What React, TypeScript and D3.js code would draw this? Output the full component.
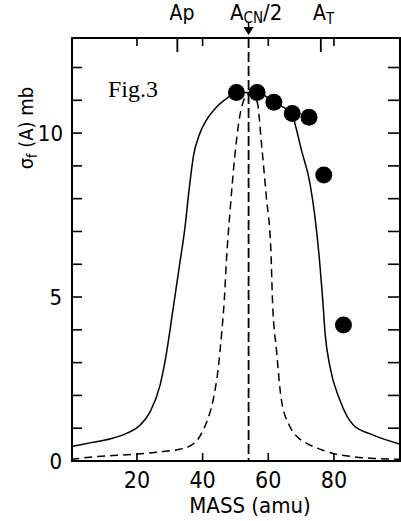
import React from 'react';
import * as d3 from 'd3';

// solid curve: [mass, sigma]
const solidCurve: [number, number][] = [
  [0, 0.44], [6, 0.56], [12, 0.68], [17, 0.85], [21, 1.1], [24, 1.5], [27, 2.3],
  [29, 3.3], [30.8, 4.5], [33, 6.0], [34.6, 7.1], [35.8, 8.2], [37.2, 9.3],
  [39, 9.95], [41.2, 10.4], [44.3, 10.8], [47.8, 11.09], [50.3, 11.24],
  [56.6, 11.24], [61.7, 10.94], [67.3, 10.55], [68.6, 10.1], [70.1, 9.48],
  [72.7, 8.47], [74.2, 7.45], [75.6, 6.13], [76.6, 4.9], [77.3, 3.9],
  [78.8, 2.87], [81.8, 1.86], [85.9, 1.1], [92, 0.79], [100, 0.52],
];

// dashed curve
const dashedCurve: [number, number][] = [
  [0, 0.05], [7, 0.13], [20, 0.21], [27, 0.28], [33, 0.36], [36.2, 0.46],
  [38.5, 0.65], [40.2, 0.95], [42, 1.4], [43.2, 1.86], [44.8, 2.87],
  [45.8, 3.9], [46.6, 4.9], [47.3, 6.2], [48.3, 7.55], [49.8, 9.3],
  [51.9, 10.8], [54, 11.2], [56.6, 10.95], [58, 9.6], [59.4, 8.06],
  [60.8, 6.4], [61.3, 4.85], [62.5, 3.38], [64, 1.86], [66.6, 1.05],
  [69, 0.72], [71.7, 0.54], [76, 0.35], [79.8, 0.23], [86, 0.13],
  [92, 0.08], [100, 0.05],
];

// measured points
const pointMass = [50.3, 56.6, 61.7, 67.3, 72.4, 76.9, 82.9];
const pointSigma = [11.24, 11.24, 10.94, 10.6, 10.48, 8.72, 4.15];

const bottomTicks = [20, 40, 60, 80];
const topTicks = [20, 40, 60, 80];
const yTickLabels = [0, 5, 10];
const yMinorTicks = d3.range(1, 13);

const massAp = 32.3;
const massT = 76;
const massHalf = 54;

const sans = "'Liberation Sans Narrow', 'DejaVu Sans Condensed', 'Liberation Sans', sans-serif";

export default function App() {
  const left = 72, right = 400, top = 38, bottom = 461;
  const x = d3.scaleLinear().domain([0, 100]).range([71.3, 399.6]);
  const y = d3.scaleLinear().domain([0, 12.9]).range([bottom, top]);

  const line = d3.line<[number, number]>()
    .x(d => x(d[0]))
    .y(d => y(d[1]))
    .curve(d3.curveMonotoneX);

  return (
    <svg width={401} height={521} style={{ position: 'absolute', left: 0, top: 0, background: '#fff' }}>
      <rect x={left} y={top} width={right - left} height={bottom - top} fill="none" stroke="#000" strokeWidth={2} />

      {/* left / right ticks */}
      {yMinorTicks.map(v => (
        <g key={v}>
          <line x1={left} x2={left + 10} y1={y(v)} y2={y(v)} stroke="#000" strokeWidth={1.6} />
          <line x1={right} x2={right - 12} y1={y(v)} y2={y(v)} stroke="#000" strokeWidth={1.6} />
        </g>
      ))}
      {yTickLabels.map(v => (
        <text key={v} x={v === 10 ? 63 : 62} y={y(v)} dy="0.36em" textAnchor="end"
          fontFamily={sans} fontSize={22}>{v}</text>
      ))}

      {/* bottom ticks */}
      {bottomTicks.map(v => (
        <g key={v}>
          <line x1={x(v)} x2={x(v)} y1={bottom} y2={bottom - 8} stroke="#000" strokeWidth={1.6} />
          <text x={x(v)} y={488} textAnchor="middle" fontFamily={sans} fontSize={23}>{v}</text>
        </g>
      ))}

      {/* top ticks */}
      {topTicks.map(v => (
        <line key={v} x1={x(v)} x2={x(v)} y1={top} y2={top + 8} stroke="#000" strokeWidth={1.6} />
      ))}
      {[massAp, massT].map(v => (
        <line key={v} x1={x(v)} x2={x(v)} y1={top} y2={top + 14} stroke="#000" strokeWidth={1.8} />
      ))}

      {/* A_CN/2 vertical line */}
      <line x1={x(massHalf)} x2={x(massHalf)} y1={top} y2={bottom} stroke="#000" strokeWidth={1.8} strokeDasharray="10,4" />
      <line x1={x(massHalf)} x2={x(massHalf)} y1={22} y2={30} stroke="#000" strokeWidth={1.5} />
      <path d={`M${x(massHalf) - 5},27 L${x(massHalf) + 5},27 L${x(massHalf)},35 Z`} fill="#000" />

      {/* curves */}
      <path d={line(dashedCurve) ?? ''} fill="none" stroke="#000" strokeWidth={1.5} strokeDasharray="8,5" />
      <path d={line(solidCurve) ?? ''} fill="none" stroke="#000" strokeWidth={1.5} />

      {pointMass.map((m, i) => (
        <circle key={i} cx={x(m)} cy={y(pointSigma[i])} r={8.5} fill="#000" />
      ))}

      {/* labels */}
      <text x={108} y={97} fontFamily="'Liberation Serif', serif" fontSize={24}>Fig.3</text>

      <text x={182} y={20} textAnchor="middle" fontFamily={sans} fontSize={21}>Ap</text>
      <text x={230} y={20} fontFamily={sans} fontSize={22}>
        A<tspan fontSize={15} dy={3}>CN</tspan><tspan dy={-3}>/2</tspan>
      </text>
      <text x={313} y={20} fontFamily={sans} fontSize={21}>
        A<tspan fontSize={15} dy={4}>T</tspan>
      </text>

      <text x={250} y={513} textAnchor="middle" fontFamily={sans} fontSize={22}>MASS (amu)</text>

      <text transform="translate(33,128) rotate(-90)" textAnchor="middle" fontFamily={sans} fontSize={20}>
        σ<tspan fontSize={14} dy={4}>f</tspan><tspan dy={-4}> (A) mb</tspan>
      </text>
    </svg>
  );
}
